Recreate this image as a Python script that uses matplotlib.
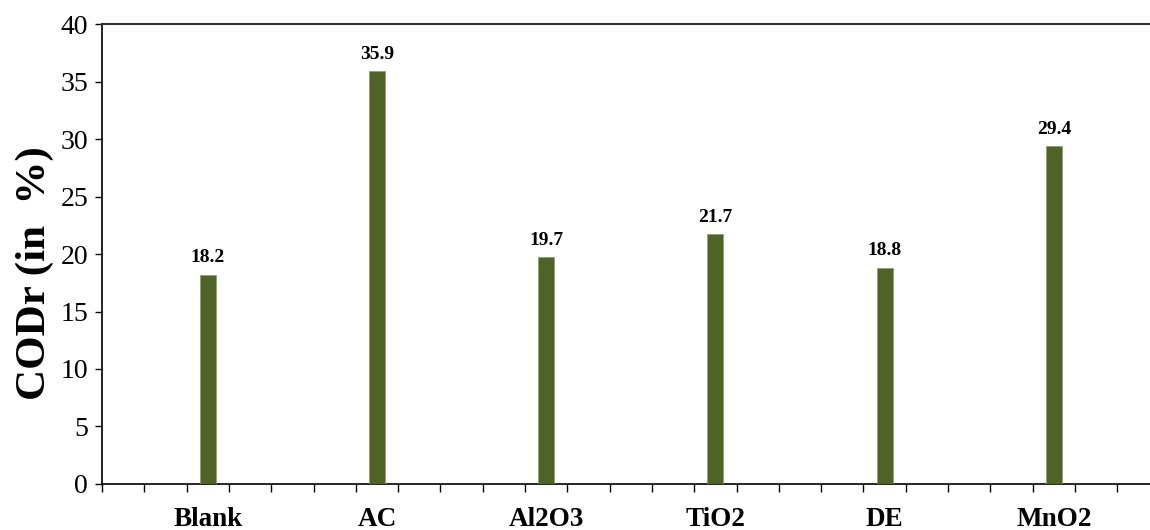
import matplotlib
matplotlib.use("Agg")
import matplotlib.pyplot as plt

plt.rcParams["font.family"] = ["Liberation Serif", "DejaVu Serif"]

# data
categories = ["Blank", "AC", "Al2O3", "TiO2", "DE", "MnO2"]
codr = [18.2, 35.9, 19.7, 21.7, 18.8, 29.4]
value_labels = ["18.2", "35.9", "19.7", "21.7", "18.8", "29.4"]
y_ticks = [0, 5, 10, 15, 20, 25, 30, 35, 40]

# each category takes 4 slots on the axis, bar in the middle of the 3rd slot
slot = 4
positions = [i * slot + 2.5 for i in range(len(categories))]
n_slots = 25

fig = plt.figure(figsize=(11.5, 5.3), dpi=100)
ax = fig.add_axes([0.0887, 0.0868, 0.9196, 0.8679])

bars = ax.bar(positions, codr, width=0.38, color="#4F6228",
              edgecolor="#8C9C6C", linewidth=0.5, zorder=3)

for x, v, lab in zip(positions, codr, value_labels):
    ax.annotate(lab, (x, v), xytext=(0, 6), textcoords="offset points",
                ha="center", va="bottom", fontsize=14, fontweight="bold")

ax.set_xlim(0, n_slots)
ax.set_ylim(0, 40)
ax.set_yticks(y_ticks)
ax.tick_params(axis="y", direction="out", length=5, width=1, labelsize=20, pad=5)

ax.set_xticks(range(n_slots + 1))
ax.set_xticklabels([])
ax.tick_params(axis="x", which="major", direction="out", length=6, width=1)
ax.set_xticks(positions, categories, minor=True)
ax.tick_params(axis="x", which="minor", length=0, pad=16.5, labelsize=19.5)
for t in ax.get_xticklabels(minor=True):
    t.set_fontweight("bold")

ax.set_ylabel("CODr (in  %)", fontsize=31, fontweight="bold")
ax.yaxis.set_label_coords(-0.045, 0.459)

ax.spines["right"].set_visible(False)
ax.spines["top"].set_color("#333333")
ax.spines["top"].set_linewidth(1.5)
ax.spines["left"].set_linewidth(1.2)
ax.spines["bottom"].set_linewidth(1.2)

fig.savefig("out.png", dpi=100)
